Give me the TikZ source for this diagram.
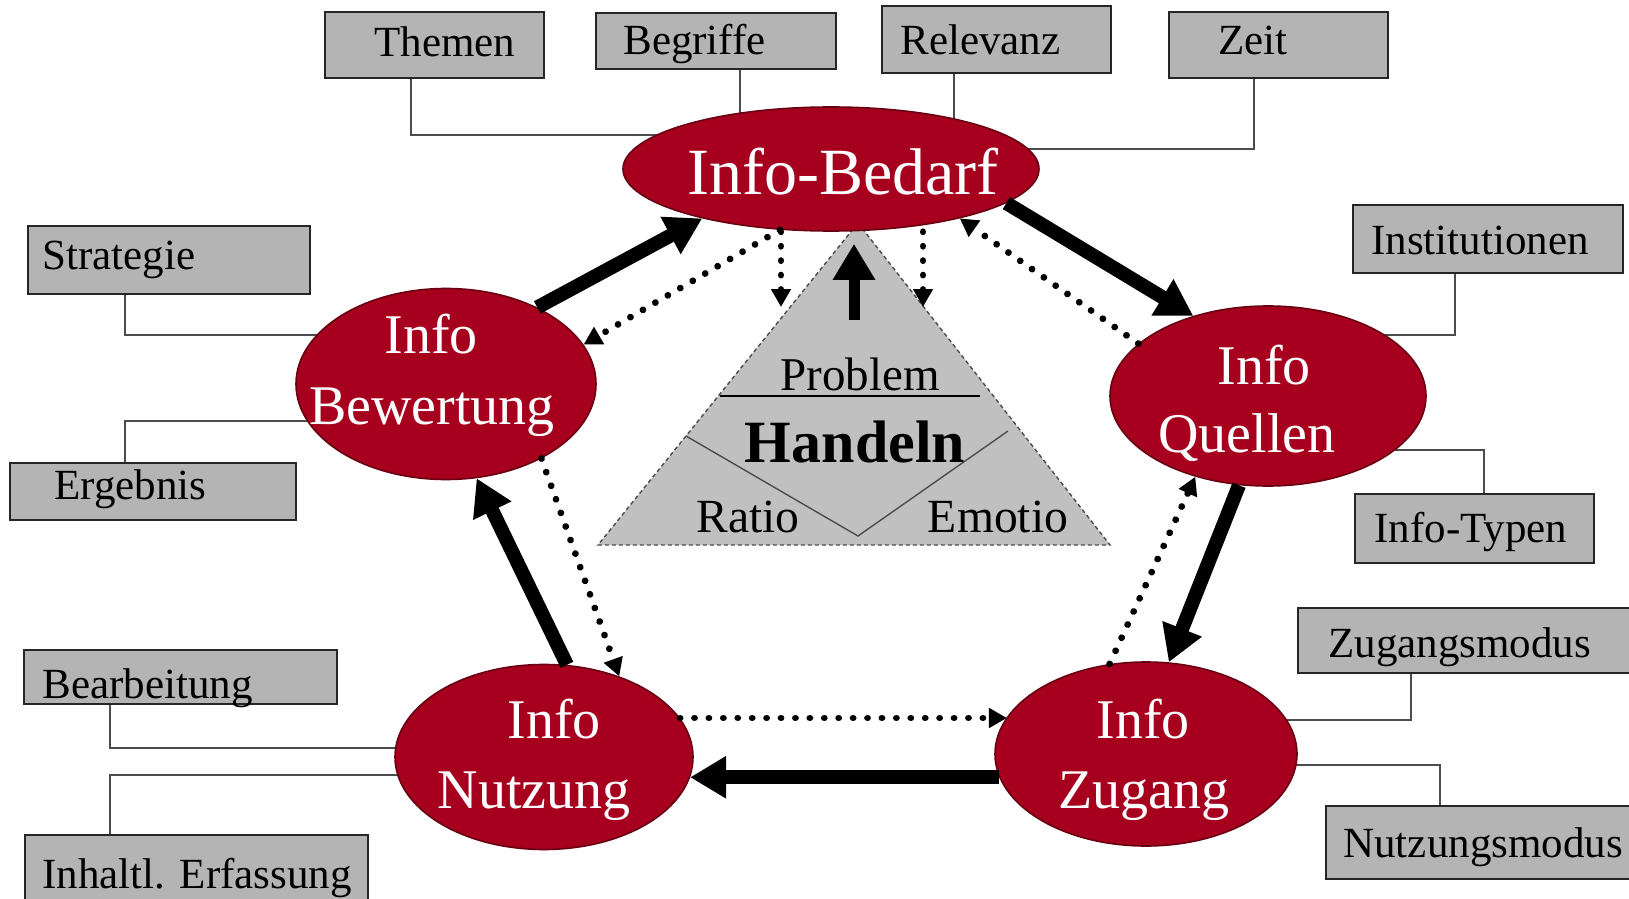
\documentclass[tikz,border=0pt]{standalone}
\usepackage{fontspec}
\setmainfont{Liberation Serif}
\usetikzlibrary{shapes.geometric,arrows.meta,calc,backgrounds}
\pgfdeclarelayer{bottom}
\pgfsetlayers{bottom,background,main}
\definecolor{ered}{RGB}{166,0,30}
\definecolor{eredborder}{RGB}{105,0,18}
\definecolor{boxgray}{RGB}{180,180,180}
\definecolor{trigray}{RGB}{192,192,192}
\begin{document}
\begin{tikzpicture}[x=0.5pt,y=-0.5pt,
  infobox/.style={draw=black!85, line width=0.9pt, fill=boxgray, rectangle, inner sep=0pt},
  boxtext/.style={anchor=base west, inner sep=0pt, font=\fontsize{21.5}{26}\selectfont},
  bubble/.style={ellipse, draw=eredborder, line width=0.8pt, fill=ered, inner sep=0pt},
  bubtext/.style={anchor=base, inner sep=0pt, text=white, font=\fontsize{28}{34}\selectfont},
  tritext/.style={anchor=base, inner sep=0pt, font=\fontsize{23.8}{28}\selectfont},
  conn/.style={draw=black!70, line width=0.75pt},
  flow/.style={line width=7pt, -{Triangle[length=18pt,width=20pt]}},
  back/.style={line width=3.4pt, line cap=round, dash pattern=on 0.01pt off 7.2pt, -{Triangle[length=9pt,width=9.5pt]}},
]
\useasboundingbox (0,0) rectangle (1629,899);
\begin{pgfonlayer}{bottom}
\fill[white] (0,0) rectangle (1629,899);
\end{pgfonlayer}

% ---------- boxes ----------
\node[infobox, minimum width=109.5pt, minimum height=32.75pt] (themen) at (434.5,45) {};
\node[boxtext] (themenT) at (374,57) {Themen};
\node[infobox, minimum width=120pt, minimum height=28.25pt] (begriffe) at (716,41) {};
\node[boxtext] (begriffeT) at (623,55) {Begriffe};
\node[infobox, minimum width=114.5pt, minimum height=33.5pt] (relevanz) at (996.5,39.5) {};
\node[boxtext] (relevanzT) at (900,55) {Relevanz};
\node[infobox, minimum width=109.5pt, minimum height=32.75pt] (zeit) at (1278.5,45) {};
\node[boxtext] (zeitT) at (1218,55) {Zeit};

\node[infobox, minimum width=141pt, minimum height=34pt] (strategie) at (169,260) {};
\node[boxtext] (strategieT) at (42,270) {Strategie};
\node[infobox, minimum width=143pt, minimum height=28.5pt] (ergebnis) at (153,491.5) {};
\node[boxtext] (ergebnisT) at (54,499) {Ergebnis};
\node[infobox, minimum width=156.5pt, minimum height=27pt] (bearbeitung) at (180.5,677) {};
\node[boxtext] (bearbeitungT) at (42,698) {Bearbeitung};
\node[infobox, minimum width=171.5pt, minimum height=37.5pt] (inhaltl) at (196.5,872.5) {};
\node[boxtext] (inhaltlT) at (42,888) {Inhaltl. Erfassung};

\node[infobox, minimum width=135pt, minimum height=34pt] (institutionen) at (1488,239) {};
\node[boxtext] (institutionenT) at (1371,255) {Institutionen};
\node[infobox, minimum width=119.5pt, minimum height=34.5pt] (infotypen) at (1474.5,528.5) {};
\node[boxtext] (infotypenT) at (1374,542) {Info-Typen};
\node[infobox, minimum width=167pt, minimum height=32.5pt] (zugangsmodus) at (1465,640.5) {};
\node[boxtext] (zugangsmodusT) at (1328,657) {Zugangsmodus};
\node[infobox, minimum width=153pt, minimum height=36.5pt] (nutzungsmodus) at (1479,842.5) {};
\node[boxtext] (nutzungsmodusT) at (1343,857) {Nutzungsmodus};

% ---------- triangle ----------
\coordinate (apex) at (858,223);
\coordinate (bl) at (598,545);
\coordinate (br) at (1110,545);
\draw[draw=black!70, dash pattern=on 2pt off 1.5pt, line width=0.7pt, fill=trigray] (apex) -- (br) -- (bl) -- cycle;
\coordinate (pl) at (720,396);
\coordinate (pr) at (980,396);
\draw[line width=0.8pt] (pl) -- (pr);
\coordinate (vl) at (686,436);
\coordinate (vb) at (858,536);
\coordinate (vr) at (1008,431);
\draw[line width=0.7pt, black!70] (vl) -- (vb) -- (vr);
\node[tritext, font=\fontsize{23.5}{28}\selectfont] (problem) at (860,390) {Problem};
\node[tritext, font=\fontsize{30}{36}\selectfont\bfseries] (handeln) at (855,462) {Handeln};
\node[tritext] (ratio) at (748,532) {Ratio};
\node[tritext] (emotio) at (998,532) {Emotio};

% ---------- ellipses ----------
\node[bubble, minimum width=208pt, minimum height=62pt] (bedarf) at (831,169) {};
\node[bubtext, font=\fontsize{33}{40}\selectfont] (bedarfT) at (843,195) {Info-Bedarf};
\node[bubble, minimum width=150pt, minimum height=95.5pt] (bewertung) at (446,384) {};
\node[bubtext] (bewertungT1) at (431,353) {Info};
\node[bubtext] (bewertungT2) at (432,424) {Bewertung};
\node[bubble, minimum width=158pt, minimum height=90pt] (quellen) at (1268,396) {};
\node[bubtext] (quellenT1) at (1264,384) {Info};
\node[bubtext] (quellenT2) at (1247,452) {Quellen};
\node[bubble, minimum width=149pt, minimum height=92.5pt] (nutzung) at (544,757) {};
\node[bubtext] (nutzungT1) at (554,738) {Info};
\node[bubtext] (nutzungT2) at (534,808) {Nutzung};
\node[bubble, minimum width=151pt, minimum height=92pt] (zugang) at (1146,754) {};
\node[bubtext] (zugangT1) at (1143,738) {Info};
\node[bubtext] (zugangT2) at (1144,808) {Zugang};

% ---------- connectors to boxes ----------
\begin{pgfonlayer}{background}
\coordinate (begA) at ($(begriffe.south)+(24,0)$);
\coordinate (relA) at ($(relevanz.south)+(-42.5,0)$);
\draw[conn] ($(themen.south)+(-23.5,0)$) |- ($(bedarf.center)+(0,-34)$);
\draw[conn] (begA) -- (begA |- bedarf.center);
\draw[conn] (relA) -- (relA |- bedarf.center);
\draw[conn] ($(zeit.south)+(-24.5,0)$) |- ($(bedarf.center)+(0,-20)$);
\draw[conn] ($(strategie.south)+(-44,0)$) |- ($(bewertung.center)+(0,-49)$);
\draw[conn] ($(ergebnis.north)+(-28,0)$) |- ($(bewertung.center)+(0,37)$);
\draw[conn] ($(institutionen.south)+(-33,0)$) |- ($(quellen.center)+(0,-61)$);
\draw[conn] ($(infotypen.north)+(9.5,0)$) |- ($(quellen.center)+(0,54)$);
\draw[conn] ($(zugangsmodus.south)+(-54,0)$) |- ($(zugang.center)+(0,-34)$);
\draw[conn] ($(nutzungsmodus.north)+(-39,0)$) |- ($(zugang.center)+(0,11)$);
\draw[conn] ($(bearbeitung.south)+(-70.5,0)$) |- ($(nutzung.center)+(0,-9)$);
\draw[conn] ($(inhaltl.north)+(-86.5,0)$) |- ($(nutzung.center)+(0,18)$);
\end{pgfonlayer}

% ---------- main cycle ----------
\draw[flow] (bewertung.40) -- (bedarf.201);
\draw[flow] (bedarf.349) -- (quellen.133);
\draw[flow] (quellen.252) -- (zugang.76);
\draw[flow] (zugang.189) -- (zugang.189 -| nutzung.352);
\draw[flow] (nutzung.76) -- (bewertung.288);

% ---------- feedback ----------
\draw[back] (bedarf.230) -- (bewertung.16);
\draw[back] (quellen.158) -- (bedarf.339);
\draw[back] (zugang.112) -- (quellen.228);
\draw[back] (nutzung.16) -- (nutzung.16 -| zugang.165);
\draw[back] (bewertung.322) -- (nutzung.47);

% ---------- triangle links ----------
\coordinate (d1) at (781,307);
\coordinate (d2) at (923,307);
\draw[back] (d1 |- bedarf.south) -- (d1);
\draw[back] (d2 |- bedarf.south) -- (d2);
\coordinate (h1) at (854,320);
\draw[flow, line width=5.5pt] (h1) -- ([yshift=-6pt]h1 |- bedarf.south);
\end{tikzpicture}
\end{document}
